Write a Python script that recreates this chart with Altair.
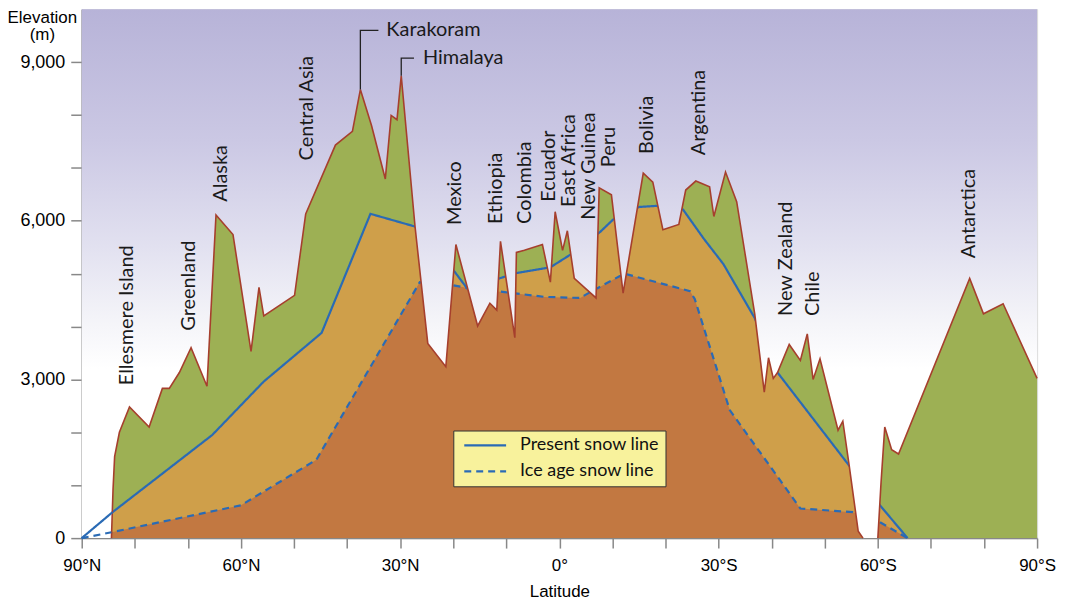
import altair as alt
import pandas as pd

# ---------------- data ----------------
terrain_lat = [90, 84.4, 84.1, 83.8, 82.9, 81.0, 77.3, 74.8, 73.5, 71.6, 69.4, 66.4, 64.7, 61.5,
               58.1, 56.6, 55.7, 49.9, 47.8, 42.2, 39.0, 37.5, 35.4, 32.8, 31.7, 30.6, 29.8, 27.2,
               24.8, 21.4, 19.5, 15.4, 13.1, 11.8, 11.1, 8.4, 8.1, 6.6, 3.2, 1.7, 0.8, -0.6, -1.5,
               -2.8, -6.9, -7.5, -9.8, -12.0, -15.8, -17.6, -19.5, -22.5, -23.8, -25.7, -28.3,
               -29.1, -31.3, -33.4, -36.8, -38.6, -39.4, -40.3, -41.1, -43.3, -45.4, -46.7, -47.8,
               -49.1, -52.5, -53.4, -54.6, -56.3, -57.2, -60.0, -60.6, -61.3, -62.6, -63.9, -77.3,
               -79.9, -83.6, -90.0]
terrain_elev = [0, 0, 920, 1540, 2000, 2480, 2100, 2830, 2830, 3130, 3600, 2870, 6110, 5740,
                3530, 4740, 4200, 4590, 6130, 7430, 7690, 8480, 7800, 6790, 7990, 7910, 8740, 5890,
                3680, 3240, 5550, 4010, 4440, 4310, 5610, 3790, 5400, 5440, 5550, 4840, 6170, 5440, 5810,
                4910, 4540, 6620, 6490, 4630, 6900, 6730, 5830, 5930, 6580, 6750, 6640,
                6080, 6920, 6360, 4240, 2760, 3410, 3020, 3130, 3660, 3360, 3860, 3000,
                3390, 2040, 2210, 1370, 130, 0, 0, 1050, 2100, 1670, 1590, 4910,
                4240, 4430, 3020]

present_lat = [90, 84.2, 65.4, 55.7, 44.8, 35.6, 27.2, 19.7, 17.3, 11.3, 8.1, 1.7, -2.1, -7.7,
               -10.1, -15.0, -18.2, -23.3, -27.2, -30.9, -36.8, -41.1, -54.6, -60.4, -65.6]
present_elev = [0, 490, 1950, 2960, 3880, 6130, 5890, 5030, 4710, 4910, 5010, 5120, 5360, 5790,
                6020, 6260, 6280, 6210, 5660, 5180, 4160, 3130, 1370, 620, 0]

ice_lat = [90, 84.4, 60.0, 45.8, 26.3, 20.1, 17.3, 10.3, 2.8, -3.9, -5.8, -11.3, -12.6, -24.6,
           -25.5, -32.1, -45.4, -55.3, -60.4, -65.6]
ice_elev = [0, 110, 620, 1480, 4840, 4780, 4730, 4650, 4560, 4540, 4650, 4950, 4990, 4670,
            4520, 2420, 560, 490, 300, 0]

region_names = ["Ellesmere Island", "Greenland", "Alaska", "Central Asia", "Mexico", "Ethiopia",
                "Colombia", "Ecuador", "East Africa", "New Guinea", "Peru", "Bolivia",
                "Argentina", "New Zealand", "Chile", "Antarctica"]
region_lat = [81.4, 69.7, 63.7, 47.6, 19.7, 12.0, 6.4, 1.9, -1.9, -5.6, -9.4, -16.5,
              -26.4, -42.7, -47.8, -77.1]
region_elev = [2890, 3920, 6360, 7140, 5920, 5940, 5940, 6360, 6260, 6020, 7010, 7260,
               7240, 4200, 4200, 5290]

peak_names = ["Karakoram", "Himalaya"]
peak_lat = [37.5, 29.8]
peak_elev = [8480, 8740]
peak_label_elev = [9600, 9075]
peak_line_end_lat = [34.1, 27.4]
peak_text_lat = [32.6, 25.7]

SERIES = ["Present snow line", "Ice age snow line"]

# ---------------- tables ----------------
terrain = pd.DataFrame({"lat": terrain_lat, "elev": terrain_elev})
present = pd.DataFrame({"lat": present_lat, "elev": present_elev, "series": SERIES[0]})
ice = pd.DataFrame({"lat": ice_lat, "elev": ice_elev, "series": SERIES[1]})
snow = pd.concat([present, ice], ignore_index=True)
regions = pd.DataFrame({"lat": region_lat, "elev": region_elev, "name": region_names})
peak_text = pd.DataFrame({"lat": peak_text_lat, "elev": peak_label_elev, "name": peak_names})
leader_rows = []
for n, pl, pe, le, el in zip(peak_names, peak_lat, peak_elev, peak_label_elev, peak_line_end_lat):
    leader_rows += [
        {"name": n, "step": 0, "lat": pl, "elev": pe},
        {"name": n, "step": 1, "lat": pl, "elev": le},
        {"name": n, "step": 2, "lat": el, "elev": le},
    ]
leaders = pd.DataFrame(leader_rows)

# ---------------- styles ----------------
GREEN = "#9db054"
GOLD = "#cf9f4a"
BROWN = "#c27841"
OUTLINE = "#a63f2d"
BLUE = "#2a6bb5"
FONT = "Lato"

sky = alt.LinearGradient(
    gradient="linear",
    stops=[
        alt.GradientStop(color="#b7b3d8", offset=0),
        alt.GradientStop(color="#cbc8e4", offset=0.25),
        alt.GradientStop(color="#e2e1f0", offset=0.45),
        alt.GradientStop(color="#f3f3f8", offset=0.58),
        alt.GradientStop(color="#ffffff", offset=0.68),
        alt.GradientStop(color="#ffffff", offset=1),
    ],
    x1=0, x2=0, y1=0, y2=1,
)

X = alt.X(
    "lat:Q",
    scale=alt.Scale(domain=[90, -90], nice=False, zero=False),
    axis=alt.Axis(
        values=list(range(90, -91, -10)),
        labelExpr="datum.value % 30 == 0 ? (datum.value > 0 ? datum.value + '°N' : (datum.value < 0 ? (-datum.value) + '°S' : '0°')) : ''",
        tickSize=10, tickWidth=1.5, domainWidth=1.5,
        labelFontSize=17, labelPadding=10, labelFlush=False,
        title="Latitude", titleFontSize=17, titleFontWeight="normal", titlePadding=10,
    ),
)
Y = alt.Y(
    "elev:Q",
    scale=alt.Scale(domain=[0, 10000], nice=False),
    axis=alt.Axis(
        values=list(range(0, 10000, 1000)),
        labelExpr="datum.value % 3000 == 0 ? format(datum.value, ',') : ''",
        tickSize=11, tickWidth=1.5, domainWidth=1.5,
        labelFontSize=18, labelPadding=6,
        title=["Elevation", "(m)"], titleAngle=0, titleAlign="center", titleBaseline="top",
        titleX=-40, titleY=0, titleFontSize=17, titleFontWeight="normal", titleLineHeight=18,
    ),
)

legend = alt.Legend(
    title=None, orient="none", legendX=373, legendY=423,
    fillColor="#f8f29c", strokeColor="#333333", padding=6,
    symbolType="M-3,0H3", symbolSize=196, symbolStrokeWidth=2.2, symbolOffset=17,
    labelFontSize=18, labelFont=FONT, labelColor="#111111", labelOffset=26, rowPadding=8,
)
color = alt.Color("series:N", scale=alt.Scale(domain=SERIES, range=[BLUE, BLUE]), legend=legend)
dash = alt.StrokeDash("series:N", scale=alt.Scale(domain=SERIES, range=[[1, 0], [7, 5]]), legend=legend)

green = alt.Chart(terrain).mark_area(color=GREEN).encode(x=X, y=Y)
gold = alt.Chart(present).mark_area(color=GOLD).encode(x=X, y=Y)
brown = alt.Chart(ice).mark_area(color=BROWN).encode(x=X, y=Y)
lines = alt.Chart(snow).mark_line(strokeWidth=2.2).encode(x=X, y=Y, color=color, strokeDash=dash, detail="series:N")
mask = alt.Chart(terrain).transform_calculate(top="10000").mark_area(color=sky).encode(
    x=X, y=Y, y2=alt.Y2("top:Q"))
outline = (alt.Chart(terrain)
           .transform_filter("datum.lat < 85")
           .transform_calculate(seg="datum.lat < -58.5 ? 'S' : 'N'")
           .mark_line(color=OUTLINE, strokeWidth=1.6)
           .encode(x=X, y=Y, detail="seg:N"))
pole = (alt.Chart(snow).transform_filter("datum.lat > 84")
        .mark_line(strokeWidth=2.2)
        .encode(x=X, y=Y, color=color, strokeDash=dash, detail="series:N"))
leader = alt.Chart(leaders).mark_line(color="#222222", strokeWidth=1.3).encode(
    x=X, y=Y, detail="name:N", order="step:Q")
ptext = alt.Chart(peak_text).mark_text(align="left", baseline="middle", font=FONT, fontSize=20,
                                        color="#1a1a1a").encode(x=X, y=Y, text="name:N")
rtext = alt.Chart(regions).mark_text(angle=270, align="left", baseline="middle", font=FONT,
                                     fontSize=20, color="#1a1a1a").encode(x=X, y=Y, text="name:N")

chart = (
    alt.layer(green, gold, brown, lines, mask, outline, pole, leader, ptext, rtext)
    .properties(width=959, height=531,
                autosize=alt.AutoSizeParams(type="none"),
                padding={"left": 74, "top": 0, "right": 22, "bottom": 64})
    .configure_view(stroke=None)
    .configure_axis(grid=False, domainColor="#444444", tickColor="#444444",
                    labelColor="#333333", titleColor="#333333",
                    labelFont=FONT, titleFont=FONT)
    .configure(background="white")
)

chart.save("out.html", embed_options={"renderer": "svg", "actions": False})
